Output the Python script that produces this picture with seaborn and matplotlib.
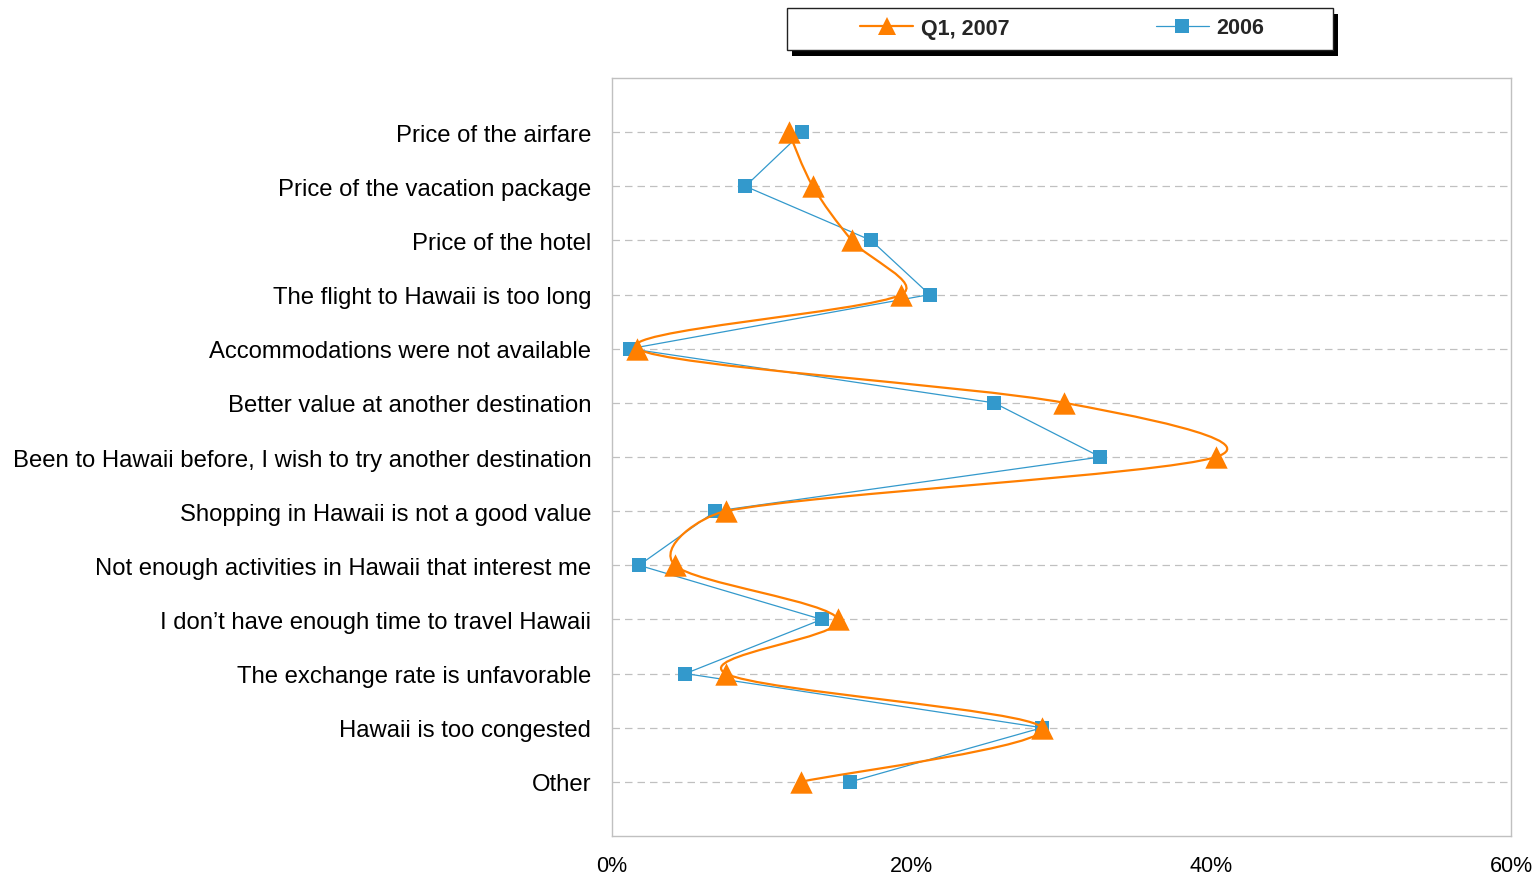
import numpy as np
import matplotlib
matplotlib.use("Agg")
import matplotlib.pyplot as plt
from matplotlib.path import Path
from matplotlib.patches import PathPatch, Rectangle
from matplotlib.lines import Line2D
from matplotlib.ticker import PercentFormatter
import seaborn as sns
import pandas as pd

reasons = [
    "Price of the airfare",
    "Price of the vacation package",
    "Price of the hotel",
    "The flight to Hawaii is too long",
    "Accommodations were not available",
    "Better value at another destination",
    "Been to Hawaii before, I wish to try another destination",
    "Shopping in Hawaii is not a good value",
    "Not enough activities in Hawaii that interest me",
    "I don\u2019t have enough time to travel Hawaii",
    "The exchange rate is unfavorable",
    "Hawaii is too congested",
    "Other",
]
q1_2007 = [11.8, 13.4, 16.0, 19.3, 1.7, 30.2, 40.3, 7.6, 4.2, 15.1, 7.6, 28.7, 12.6]
y2006 = [12.7, 8.9, 17.3, 21.2, 1.2, 25.5, 32.6, 6.9, 1.8, 14.0, 4.9, 28.7, 15.9]

ORANGE = "#FF7F00"
BLUE = "#3399CC"

sns.set_style("white")
plt.rcParams["font.family"] = ["Liberation Sans", "DejaVu Sans"]

df = pd.DataFrame({"reason": reasons, "pos": np.arange(len(reasons)),
                   "q1_2007": q1_2007, "y2006": y2006})

W, H = 1534, 878
fig = plt.figure(figsize=(W / 100, H / 100), dpi=100)
ax = fig.add_axes([612 / W, 1 - 837 / H, (1511 - 612) / W, (837 - 79) / H])
ax.set_xlim(0, 60)
ax.set_ylim(len(reasons), -1)

# 2006: straight thin line with squares
sns.lineplot(data=df, x="y2006", y="pos", sort=False, orient="y", ax=ax,
             color=BLUE, lw=0.9, marker="s", markersize=9.5, markeredgewidth=0,
             zorder=3)

# Q1 2007: Excel-style smoothed line (bezier through the points,
# handles limited relative to the segment length in screen space)
pts = df[["q1_2007", "pos"]].to_numpy(dtype=float)
sx = ax.get_position().width * W / 60.0
sy = ax.get_position().height * H / (len(reasons) + 1)
scr = pts * np.array([sx, sy])
ext = np.vstack([scr[0], scr, scr[-1]])
verts = [tuple(pts[0])]
codes = [Path.MOVETO]
for i in range(len(pts) - 1):
    p0, p1, p2, p3 = ext[i], ext[i + 1], ext[i + 2], ext[i + 3]
    cap = np.hypot(*(p2 - p1)) * 0.35
    t1 = (p2 - p0) / 6.0
    t2 = (p3 - p1) / 6.0
    l1, l2 = np.hypot(*t1), np.hypot(*t2)
    if l1 > cap:
        t1 = t1 * cap / l1
    if l2 > cap:
        t2 = t2 * cap / l2
    c1 = (p1 + t1) / [sx, sy]
    c2 = (p2 - t2) / [sx, sy]
    verts += [tuple(c1), tuple(c2), tuple(pts[i + 1])]
    codes += [Path.CURVE4] * 3
ax.add_patch(PathPatch(Path(verts, codes), facecolor="none", edgecolor=ORANGE,
                       lw=1.6, zorder=4))
sns.scatterplot(data=df, x="q1_2007", y="pos", ax=ax, color=ORANGE, marker="^",
                s=260, linewidth=0, zorder=5)

ax.set_xticks([0, 20, 40, 60])
ax.xaxis.set_major_formatter(PercentFormatter(decimals=0))
ax.set_yticks(df["pos"])
ax.set_yticklabels(reasons)
ax.set_xlabel("")
ax.set_ylabel("")
ax.tick_params(axis="both", length=0, colors="black")
ax.tick_params(axis="y", pad=15, labelsize=17.2)
ax.tick_params(axis="x", pad=13.5, labelsize=15.5)
ax.grid(axis="y", color="#C0C0C0", linestyle=(0, (6, 4)), lw=0.9)
ax.grid(axis="x", visible=False)
for sp in ax.spines.values():
    sp.set_color("#C0C0C0")
    sp.set_linewidth(1.0)
    sp.set_visible(True)

# legend box with shadow
fig.patches.append(Rectangle((792 / W, 1 - 57 / H), (1338 - 792) / W, 42 / H,
                             transform=fig.transFigure, facecolor="black",
                             edgecolor="none", zorder=1))
fig.patches.append(Rectangle((787 / W, 1 - 51 / H), (1333 - 787) / W, 42 / H,
                             transform=fig.transFigure, facecolor="white",
                             edgecolor="#222222", lw=1.0, zorder=2))
handles = [
    Line2D([], [], color=ORANGE, lw=1.6, marker="^", markersize=13, markeredgewidth=0),
    Line2D([], [], color=BLUE, lw=0.9, marker="s", markersize=9.5, markeredgewidth=0),
]
leg = fig.legend(handles, ["Q1, 2007", "2006"], loc="center",
                 bbox_to_anchor=(1062 / W, 1 - 29 / H), ncol=2, frameon=False,
                 prop={"weight": "bold", "size": 15.5}, handlelength=2.5,
                 handletextpad=0.33, columnspacing=6.8)
leg.set_zorder(3)

fig.savefig("out.png", dpi=100)
